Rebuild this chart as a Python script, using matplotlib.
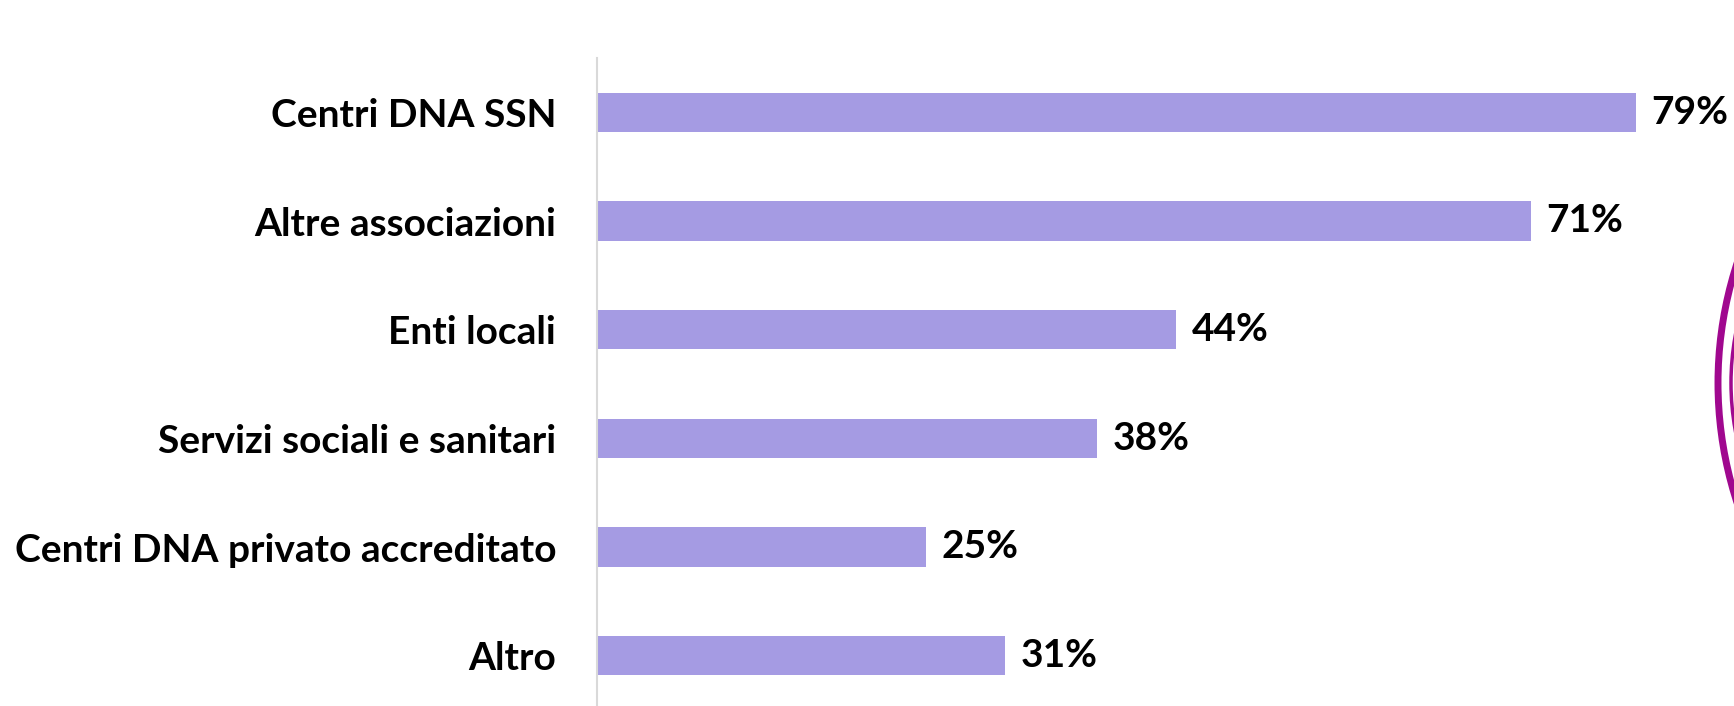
import matplotlib.pyplot as plt
from matplotlib.patches import Arc

categorie = ["Centri DNA SSN", "Altre associazioni", "Enti locali",
             "Servizi sociali e sanitari", "Centri DNA privato accreditato", "Altro"]
valori = [79, 71, 44, 38, 25, 31]

W, H = 1734, 706
plt.rcParams['font.family'] = ['Lato', 'DejaVu Sans']

fig = plt.figure(figsize=(W / 100, H / 100), dpi=100)

# asse: x=0 a 597 px, 1% = 13.15 px
x0 = 597
scala = 13.15
ax = fig.add_axes([x0 / W, (H - 710) / H, 1 - x0 / W, (710 - 58) / H])
ax.set_xlim(0, (W - x0) / scala)
ax.set_ylim(len(categorie) - 0.5, -0.5)

pos = range(len(categorie))
ax.barh(pos, valori, height=0.36, color='#A59BE3')
for i, v in enumerate(valori):
    ax.text(v + 1.2, i, f"{v}%", va='center', ha='left', fontsize=28,
            fontweight='bold', color='black')

ax.set_yticks(list(pos))
ax.set_yticklabels(categorie, fontsize=28, fontweight='bold')
ax.tick_params(axis='y', length=0, pad=29.5)
ax.set_xticks([])
for lato in ['top', 'right', 'bottom']:
    ax.spines[lato].set_visible(False)
ax.spines['left'].set_color('#D9D9D9')
ax.spines['left'].set_linewidth(1.5)

# anelli decorativi a destra (coordinate in pixel)
fig.patches.append(Arc((2104, H - 383), 2 * 386, 2 * 386, theta1=150, theta2=210,
                       color='#A0088F', lw=5, transform=None, figure=fig))
fig.patches.append(Arc((1731 + 267, H - 383), 2 * 267, 2 * 267, theta1=160, theta2=200,
                       color='#A0088F', lw=2.5, transform=None, figure=fig))

fig.savefig('out.png', dpi=100)
